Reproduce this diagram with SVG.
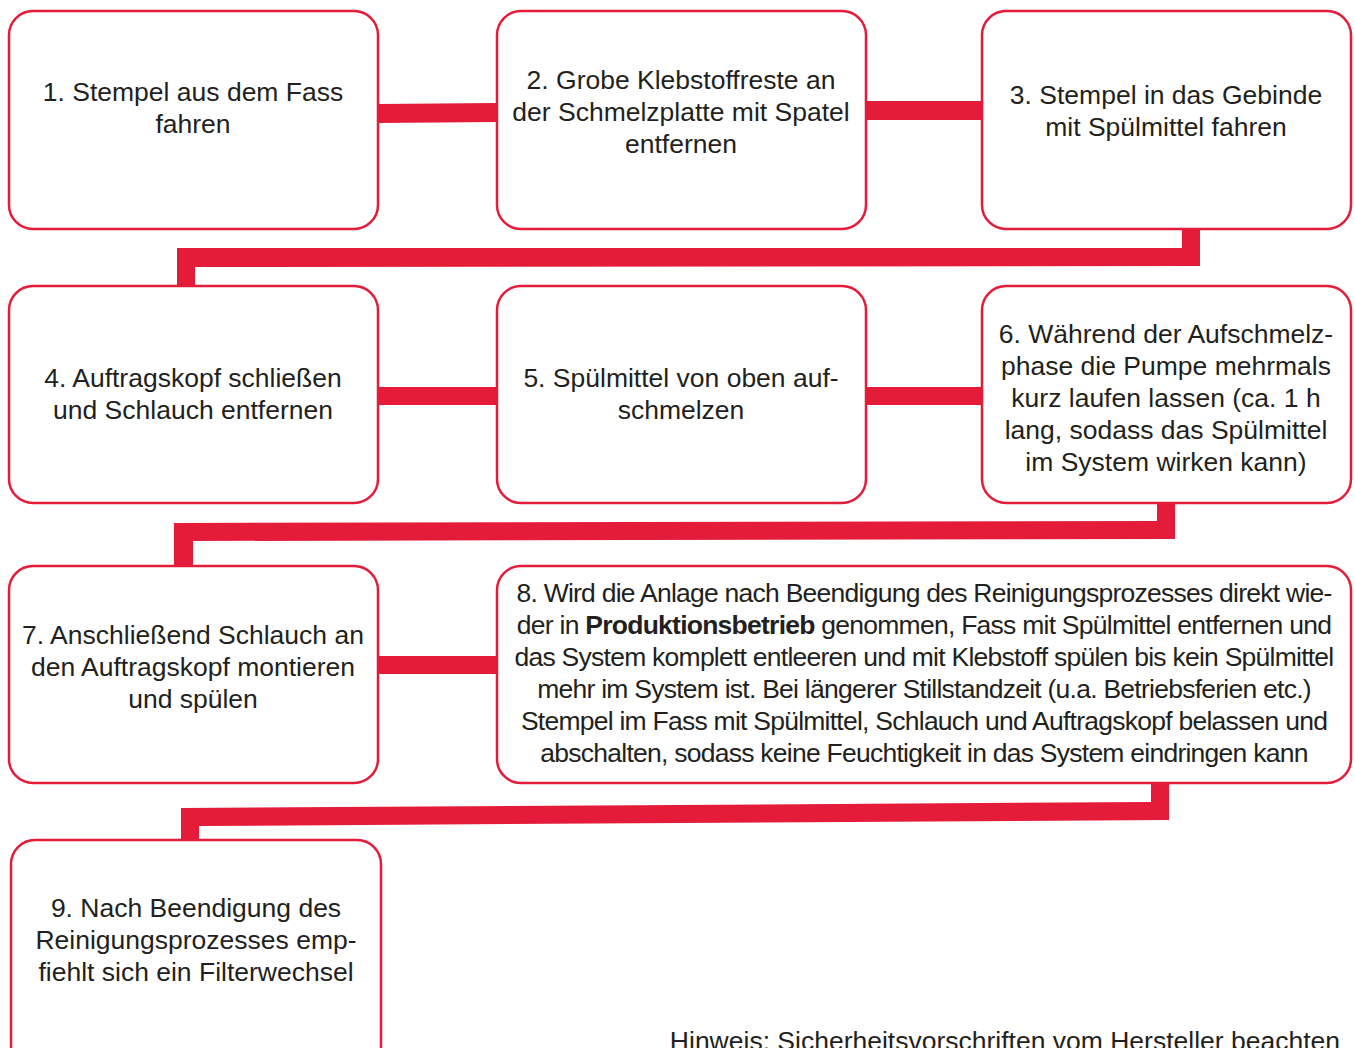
<svg xmlns="http://www.w3.org/2000/svg" width="1355" height="1048" viewBox="0 0 1355 1048">
<style>
.box{fill:#fff;stroke:#e41b39;stroke-width:2.5}
.t{font-family:"Liberation Sans",Arial,sans-serif;font-size:26.5px;fill:#231f20;text-anchor:middle}
.n8t{letter-spacing:-0.75px}
.c{fill:#e41b39}
</style>
<rect width="1355" height="1048" fill="#fff"/>
<g id="connectors">
<polygon class="c" points="378,104 497,103 497,122 378,123"/>
<polygon class="c" points="866,101 982,101 982,120 866,120"/>
<polygon class="c" points="1182,229 1200,229 1200,266 195,267 195,286 177,286 177,248 1182,248"/>
<polygon class="c" points="378,387 497,387 497,405 378,405"/>
<polygon class="c" points="866,387 982,387 982,405 866,405"/>
<polygon class="c" points="1157,503 1175,503 1175,539 193,541 193,566 174,566 174,523 1157,521"/>
<polygon class="c" points="378,656 497,656 497,674 378,674"/>
<polygon class="c" points="1151,783 1169,783 1169,820 199,826 199,840 181,840 181,808 1151,802"/>
</g>
<g id="n1"><rect class="box" x="9" y="11" width="369" height="218" rx="24"/>
<text class="t" x="193" y="101">1. Stempel aus dem Fass</text><text class="t" x="193" y="133">fahren</text></g>
<g id="n2"><rect class="box" x="497" y="11" width="369" height="218" rx="24"/>
<text class="t" x="681" y="89">2. Grobe Klebstoffreste an</text><text class="t" x="681" y="121">der Schmelzplatte mit Spatel</text><text class="t" x="681" y="153">entfernen</text></g>
<g id="n3"><rect class="box" x="982" y="11" width="369" height="218" rx="24"/>
<text class="t" x="1166" y="104">3. Stempel in das Gebinde</text><text class="t" x="1166" y="136">mit Spülmittel fahren</text></g>
<g id="n4"><rect class="box" x="9" y="286" width="369" height="217" rx="24"/>
<text class="t" x="193" y="387">4. Auftragskopf schließen</text><text class="t" x="193" y="419">und Schlauch entfernen</text></g>
<g id="n5"><rect class="box" x="497" y="286" width="369" height="217" rx="24"/>
<text class="t" x="681" y="387">5. Spülmittel von oben auf-</text><text class="t" x="681" y="419">schmelzen</text></g>
<g id="n6"><rect class="box" x="982" y="286" width="369" height="217" rx="24"/>
<text class="t" x="1166" y="343">6. Während der Aufschmelz-</text><text class="t" x="1166" y="375">phase die Pumpe mehrmals</text><text class="t" x="1166" y="407">kurz laufen lassen (ca. 1 h</text><text class="t" x="1166" y="439">lang, sodass das Spülmittel</text><text class="t" x="1166" y="471">im System wirken kann)</text></g>
<g id="n7"><rect class="box" x="9" y="566" width="369" height="217" rx="24"/>
<text class="t" x="193" y="644">7. Anschließend Schlauch an</text><text class="t" x="193" y="676">den Auftragskopf montieren</text><text class="t" x="193" y="708">und spülen</text></g>
<g id="n8"><rect class="box" x="497" y="566" width="854" height="217" rx="24"/>
<text class="t n8t" x="924" y="602">8. Wird die Anlage nach Beendigung des Reinigungsprozesses direkt wie-</text>
<text class="t n8t" x="924" y="634">der in <tspan font-weight="bold">Produktionsbetrieb</tspan> genommen, Fass mit Spülmittel entfernen und</text>
<text class="t n8t" x="924" y="666">das System komplett entleeren und mit Klebstoff spülen bis kein Spülmittel</text>
<text class="t n8t" x="924" y="698">mehr im System ist. Bei längerer Stillstandzeit (u.a. Betriebsferien etc.)</text>
<text class="t n8t" x="924" y="730">Stempel im Fass mit Spülmittel, Schlauch und Auftragskopf belassen und</text>
<text class="t n8t" x="924" y="762">abschalten, sodass keine Feuchtigkeit in das System eindringen kann</text></g>
<g id="n9"><rect class="box" x="11" y="840" width="370" height="230" rx="24"/>
<text class="t" x="196" y="917">9. Nach Beendigung des</text><text class="t" x="196" y="949">Reinigungsprozesses emp-</text><text class="t" x="196" y="981">fiehlt sich ein Filterwechsel</text></g>
<text id="hinweis" class="t" x="1340" y="1050" style="text-anchor:end">Hinweis: Sicherheitsvorschriften vom Hersteller beachten</text>
</svg>
